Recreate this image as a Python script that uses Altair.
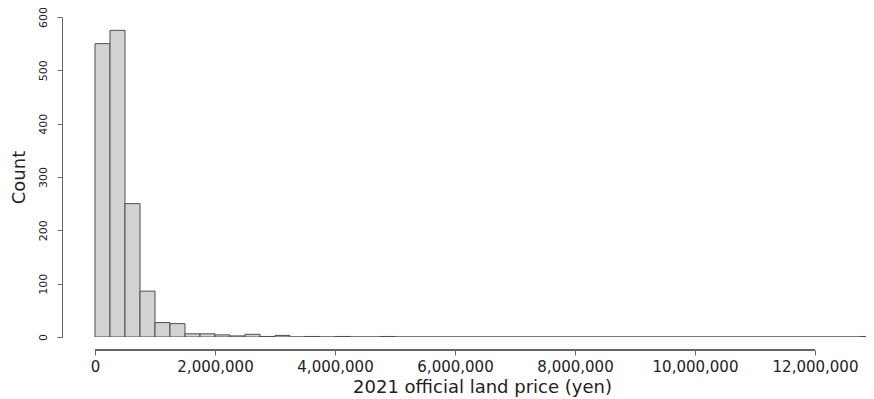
import altair as alt
import pandas as pd

# histogram of 2021 official land price (yen), bin width 250,000
bin_width = 250000
counts = [550, 575, 250, 86, 27, 25, 6, 6, 4, 2,
          5, 1, 3, 0, 1, 0, 1, 0, 0, 1,
          0, 0, 0, 0, 0, 0, 0, 0, 0, 0,
          0, 0, 0, 0, 0, 0, 0, 0, 0, 0,
          0, 0, 0, 0, 0, 0, 0, 0, 0, 0,
          0, 1]
x_ticks = [0, 2000000, 4000000, 6000000, 8000000, 10000000, 12000000]
y_ticks = [0, 100, 200, 300, 400, 500, 600]

df = pd.DataFrame({
    "start": [i * bin_width for i in range(len(counts))],
    "end": [(i + 1) * bin_width for i in range(len(counts))],
    "count": counts,
})

FONT = "DejaVu Sans"
W = 804
H = 320
x_min = -550000
x_max = x_min + W / 60.0 * 1000000

xscale = alt.Scale(domain=[x_min, x_max], nice=False, zero=False)
yscale = alt.Scale(domain=[0, 600], nice=False)

bars = alt.Chart(df).mark_rect(
    fill="#d3d3d3", stroke="#4d4d4d", strokeWidth=1, clip=True
).encode(
    x=alt.X("start:Q", scale=xscale, axis=alt.Axis(
        values=x_ticks, format=",d", domain=False, offset=13,
        tickSize=5, tickColor="#666666", tickWidth=1,
        labelFont=FONT, labelFontSize=15, labelColor="#222222",
        labelPadding=4, labelBaseline="top", labelOverlap=False, labelFlush=False,
        grid=False,
        title="2021 official land price (yen)", titleFont=FONT, titleFontSize=18,
        titleFontWeight="normal", titleColor="#222222",
        titleX=420, titleY=42, titleAlign="center", titleBaseline="alphabetic",
    )),
    x2="end:Q",
    y=alt.Y("count:Q", scale=yscale, axis=alt.Axis(
        values=y_ticks, domain=True, domainColor="#666666", domainWidth=1,
        tickSize=5, tickColor="#666666", tickWidth=1,
        labelFont=FONT, labelFontSize=11, labelColor="#222222",
        labelAngle=270, labelAlign="center", labelBaseline="middle",
        labelPadding=14, labelOverlap=False, labelFlush=False,
        grid=False,
        title="Count", titleFont=FONT, titleFontSize=18,
        titleFontWeight="normal", titleColor="#222222",
        titleAngle=270, titleX=-38, titleY=H / 2,
        titleAlign="center", titleBaseline="alphabetic",
    )),
    y2=alt.datum(0),
)

axis_line = alt.Chart(df).mark_rule(color="#666666", strokeWidth=1).encode(
    x=alt.datum(0),
    x2=alt.datum(12000000),
    y=alt.value(H + 13),
)

chart = alt.layer(bars, axis_line).properties(
    width=W, height=H,
    autosize=alt.AutoSizeParams(type="none"),
    padding={"left": 54, "top": 9, "right": 0, "bottom": 61},
).configure(background="white").configure_view(stroke=None)

chart.save("out.html", embed_options={"renderer": "svg", "actions": False})
